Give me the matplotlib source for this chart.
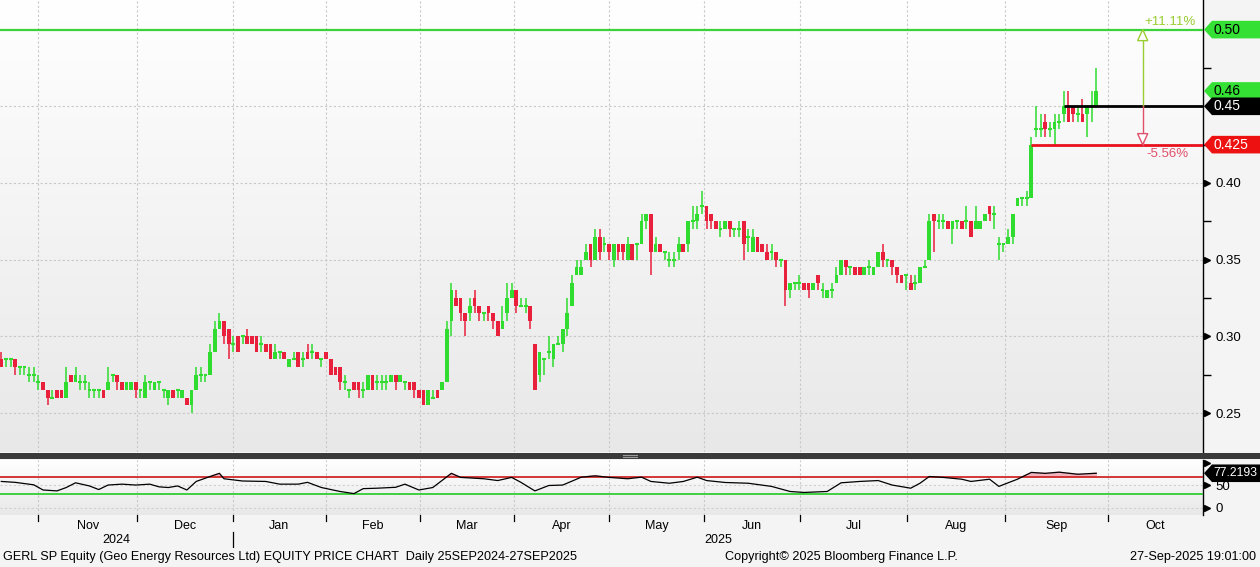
import numpy as np
import matplotlib
matplotlib.use("Agg")
import matplotlib.pyplot as plt
from matplotlib.patches import Polygon, Rectangle
from matplotlib.lines import Line2D
from matplotlib.colors import LinearSegmentedColormap

# ---------------- data ----------------
opens = [.285,.285,.285,.285,.28,.28,.275,.275,.27,.27,.265,.26,.265,.265,.26,.275,.27,.27,.27,.265,
         .265,.265,.265,.265,.275,.275,.27,.265,.265,.27,.265,.26,.27,.265,.27,.265,.26,.265,.265,.26,
         .26,.255,.265,.275,.275,.275,.29,.305,.31,.305,.295,.30,.30,.30,.30,.30,.295,.295,.295,.285,
         .29,.29,.28,.285,.29,.285,.29,.29,.29,.285,.29,.285,.28,.28,.27,.265,.27,.27,.265,.265,
         .275,.27,.27,.27,.27,.275,.27,.27,.27,.27,.265,.265,.255,.26,.265,.265,.27,.31,.325,.325,
         .315,.315,.325,.32,.315,.32,.315,.31,.305,.315,.325,.33,.32,.32,.32,.295,.275,.285,.29,.285,
         .295,.295,.305,.32,.34,.34,.35,.36,.35,.365,.36,.36,.35,.36,.36,.35,.36,.36,.36,.375,
         .38,.355,.36,.355,.35,.35,.355,.36,.36,.375,.375,.385,.385,.38,.375,.37,.37,.375,.37,.37,
         .375,.365,.355,.365,.36,.355,.355,.355,.35,.35,.33,.335,.335,.335,.335,.33,.34,.33,.325,.33,
         .335,.34,.35,.345,.345,.345,.34,.345,.34,.345,.355,.35,.35,.345,.34,.34,.335,.335,.335,.345,
         .35,.38,.375,.375,.375,.37,.375,.375,.375,.375,.37,.37,.375,.385,.38,.36,.36,.36,.365,.385,
         .39,.39,.39,.435,.435,.44,.435,.435,.44,.445,.45,.45,.445,.445,.445,.45,.45]
highs = [.29,.285,.285,.285,.28,.28,.28,.28,.275,.27,.265,.265,.265,.265,.28,.275,.28,.275,.275,.27,
         .265,.265,.265,.28,.275,.275,.27,.27,.27,.27,.265,.275,.27,.27,.27,.265,.265,.265,.265,.265,
         .26,.265,.28,.28,.275,.295,.31,.315,.31,.305,.30,.30,.30,.305,.30,.30,.30,.295,.295,.295,
         .29,.29,.285,.29,.29,.29,.295,.295,.29,.285,.29,.285,.28,.28,.275,.265,.27,.27,.27,.275,
         .275,.275,.275,.275,.275,.275,.275,.27,.27,.27,.265,.265,.265,.265,.265,.27,.31,.335,.33,.325,
         .315,.325,.33,.32,.315,.32,.315,.31,.32,.335,.335,.33,.325,.325,.32,.295,.29,.285,.30,.295,
         .30,.305,.325,.34,.35,.35,.36,.36,.37,.37,.365,.36,.36,.36,.36,.365,.36,.36,.38,.38,
         .38,.365,.36,.355,.355,.355,.365,.36,.375,.385,.385,.395,.385,.38,.375,.375,.375,.375,.37,.375,
         .375,.37,.37,.365,.36,.36,.36,.355,.35,.35,.335,.335,.34,.335,.335,.335,.34,.335,.33,.335,
         .345,.35,.35,.345,.345,.345,.345,.35,.345,.355,.36,.35,.35,.345,.34,.34,.34,.34,.345,.35,
         .38,.38,.38,.38,.375,.375,.375,.375,.385,.375,.385,.375,.38,.385,.385,.365,.36,.37,.38,.39,
         .39,.395,.43,.45,.445,.445,.44,.445,.445,.46,.46,.45,.45,.455,.45,.46,.475]
lows  = [.28,.28,.28,.275,.275,.275,.27,.27,.265,.265,.255,.26,.26,.26,.26,.27,.27,.265,.265,.26,
         .26,.26,.26,.265,.27,.265,.265,.265,.265,.26,.26,.26,.265,.265,.265,.26,.255,.26,.26,.26,
         .255,.25,.265,.27,.27,.275,.29,.305,.295,.285,.29,.29,.295,.295,.295,.29,.29,.29,.285,.285,
         .285,.285,.28,.285,.28,.28,.285,.285,.285,.28,.285,.275,.275,.265,.265,.26,.265,.26,.26,.265,
         .265,.265,.265,.265,.27,.265,.27,.265,.265,.26,.26,.255,.255,.26,.26,.265,.27,.30,.32,.31,
         .30,.31,.315,.31,.31,.31,.305,.30,.305,.31,.325,.315,.32,.315,.305,.265,.27,.275,.285,.28,
         .295,.29,.30,.32,.34,.34,.35,.345,.35,.35,.355,.35,.345,.35,.35,.35,.35,.35,.36,.37,
         .34,.355,.355,.35,.345,.345,.35,.355,.355,.37,.37,.38,.37,.37,.37,.365,.37,.365,.365,.365,
         .35,.355,.355,.355,.355,.35,.35,.345,.345,.32,.325,.33,.33,.33,.325,.33,.33,.325,.325,.325,
         .335,.34,.34,.34,.34,.34,.34,.34,.34,.345,.345,.345,.34,.335,.335,.33,.33,.33,.335,.345,
         .35,.355,.37,.37,.37,.36,.37,.37,.37,.365,.37,.37,.375,.375,.37,.35,.355,.36,.36,.385,
         .385,.385,.39,.43,.43,.43,.43,.425,.435,.44,.44,.44,.44,.44,.43,.44,.45]
closes = [.28,.285,.285,.28,.28,.28,.275,.275,.27,.265,.26,.26,.26,.26,.27,.27,.275,.27,.27,.265,
          .265,.265,.26,.27,.275,.27,.265,.27,.27,.265,.265,.27,.27,.27,.27,.265,.265,.26,.265,.265,
          .255,.265,.275,.275,.275,.29,.305,.31,.30,.295,.295,.29,.30,.295,.295,.29,.295,.29,.285,.29,
          .29,.285,.285,.285,.28,.285,.285,.29,.285,.285,.285,.275,.275,.27,.27,.265,.265,.265,.265,.275,
          .265,.27,.27,.27,.275,.27,.275,.27,.265,.265,.26,.255,.265,.26,.26,.27,.305,.33,.32,.315,
          .31,.32,.32,.315,.315,.315,.31,.30,.31,.325,.33,.32,.32,.32,.31,.265,.29,.285,.29,.295,
          .295,.305,.315,.335,.345,.345,.355,.35,.365,.355,.36,.355,.36,.355,.355,.36,.35,.36,.375,.38,
          .355,.36,.355,.355,.35,.35,.36,.355,.375,.375,.38,.385,.375,.375,.37,.37,.375,.37,.37,.37,
          .36,.365,.365,.355,.355,.35,.355,.35,.35,.33,.335,.335,.335,.33,.33,.335,.335,.33,.33,.33,
          .34,.35,.345,.345,.34,.34,.345,.345,.345,.355,.35,.35,.345,.34,.335,.34,.33,.335,.345,.345,
          .375,.375,.375,.375,.37,.375,.375,.37,.375,.365,.375,.375,.38,.38,.38,.36,.36,.365,.38,.39,
          .39,.39,.425,.435,.435,.435,.435,.44,.44,.45,.44,.445,.445,.44,.45,.45,.46]

# RSI(14): candle index and value
rsi_idx = [0,3,7,9,12,14,16,19,21,23,26,29,32,34,36,38,40,42,45,47,48,52,57,60,64,66,69,73,76,78,
           81,85,87,90,93,97,99,104,107,110,112,115,118,121,125,128,131,135,138,140,144,147,150,152,156,
           161,166,170,173,178,181,185,189,192,196,198,200,203,207,209,213,215,219,222,225,228,232,236]
rsi_val = [59,57,51.5,40,38,45.5,56,49,41,51,53,51,53,47,45.5,49,40,59,70,77,65,60,59,53,53,57,45.5,
           36.7,32,43,44,46,53,40,45.5,77,68,65,61,68,57,38,50,51,68.5,71.5,68,65,68.5,59,55,59,68.5,61,
           56.7,55,48,36.7,34.5,36.7,56,59,61,51,44,55,70,68,64,59,64,48,64,79,77,79.6,75,77.2193]

month_names = ["Nov", "Dec", "Jan", "Feb", "Mar", "Apr", "May", "Jun", "Jul", "Aug", "Sep", "Oct"]
month_bounds = [8.0, 29.2, 49.9, 69.9, 90.2, 110.6, 131.0, 151.4, 172.1, 195.2, 216.3, 238.5, 259.0]
year_labels = ["2024", "2025"]

price_ticks = [0.25, 0.30, 0.35, 0.40]
price_minor = [0.275, 0.325, 0.375, 0.425, 0.475]
last_price = 0.46
ref_high = 0.50
ref_mid = 0.45
ref_low = 0.425
pct_up = "+11.11%"
pct_down = "-5.56%"
rsi_last = 77.2193
rsi_ticks = [0, 50, 100]

# ---------------- styling ----------------
GREEN = "#2fdc2f"
RED = "#e8203c"
W, H = 1260, 567
plt.rcParams["font.family"] = ["Liberation Sans", "DejaVu Sans"]
SANS = ["Liberation Sans", "DejaVu Sans"]

fig = plt.figure(figsize=(W / 100, H / 100), dpi=100)
fig.patch.set_facecolor("#f4f4f4")


def fy(y):
    return 1 - y / H


px = 1 / 1203.0
ax = fig.add_axes([0, fy(452), 1203 / W, 452 / H])
ax2 = fig.add_axes([0, fy(515), 1203 / W, 55 / H])

cmap = LinearSegmentedColormap.from_list("bg", ["#e8e8e8", "#ffffff"])
grad = np.linspace(0, 1, 256).reshape(-1, 1)
for a in (ax, ax2):
    a.imshow(grad, extent=[0, 1, 0, 1], transform=a.transAxes, cmap=cmap,
             aspect="auto", origin="lower", zorder=0)

XL = (-0.28, month_bounds[-1])
ax.set_xlim(*XL)
ax.set_ylim(0.40 - (452 - 183) / 1534, 0.40 + 183 / 1534)
ax2.set_xlim(*XL)
ax2.set_ylim(-15.6, 106.7)

# gridlines
for a in (ax, ax2):
    for b in month_bounds[:-1]:
        a.axvline(b, color="#c8c8c8", lw=0.8, ls=(0, (2, 2)), zorder=1)
for p in price_ticks + [ref_mid]:
    ax.axhline(p, color="#c8c8c8", lw=0.8, ls=(0, (2, 2)), zorder=1)
for r in [0, 50]:
    ax2.axhline(r, color="#d0d0d0", lw=0.8, ls=(0, (2, 2)), zorder=1)

# candles
o = np.array(opens); h = np.array(highs); l = np.array(lows); c = np.array(closes)
idx = np.arange(len(c))
flat = np.isclose(o, c)
down = (c < o) & ~flat
cols = np.where(down, RED, GREEN)
ax.vlines(idx, l, h, colors=cols, lw=1.1, zorder=3)
nf = ~flat
ax.bar(idx[nf], np.abs(c - o)[nf], bottom=np.minimum(o, c)[nf], width=0.8,
       color=cols[nf], linewidth=0, zorder=4)
ax.hlines(o[flat], idx[flat] - 0.42, idx[flat] + 0.42, colors=GREEN, lw=1.5, zorder=4)

# reference lines
ax.axhline(ref_high, color="#3cd23c", lw=1.6, zorder=5)
start_mid = int(np.argmax(c >= ref_mid))
start_low = int(np.argmax(c >= ref_low))
ax.hlines(ref_mid, start_mid, XL[1], color="black", lw=2, zorder=5)
ax.hlines(ref_low, start_low, XL[1], color="#e8101c", lw=2, zorder=5)

# percent arrows
xa = 246
ax.plot([xa, xa], [ref_mid, ref_high], color="#9acd32", lw=1, zorder=5)
ax.plot([xa, xa], [ref_mid, ref_low], color="#e0506a", lw=1, zorder=5)
tw = 1.1
ax.add_patch(Polygon([[xa, ref_high], [xa - tw, ref_high - 0.0072], [xa + tw, ref_high - 0.0072]],
                     closed=True, fill=True, facecolor="white", edgecolor="#9acd32", lw=1, zorder=6))
ax.add_patch(Polygon([[xa, ref_low], [xa - tw, ref_low + 0.0072], [xa + tw, ref_low + 0.0072]],
                     closed=True, fill=True, facecolor="white", edgecolor="#e0506a", lw=1, zorder=6))
ax.text(xa + 0.4, ref_high + 0.0012, pct_up, color="#9acd32", fontsize=9.5, ha="left", va="bottom",
        family=SANS, zorder=6)
ax.text(xa + 0.8, ref_low - 0.0025, pct_down, color="#e0506a", fontsize=9.5, ha="left", va="top",
        family=SANS, zorder=6)

# right axis
for a in (ax, ax2):
    for s in ("top", "left", "bottom"):
        a.spines[s].set_visible(False)
    a.spines["right"].set_color("black")
    a.spines["right"].set_linewidth(1.0)
    a.yaxis.tick_right()
    a.tick_params(axis="y", which="major", length=0, pad=9, labelsize=9.5)
    a.tick_params(axis="y", which="minor", length=6, width=1, direction="out", color="black")
    a.set_xticks([])

ax.set_yticks(price_ticks)
ax.set_yticklabels([f"{p:.2f}" for p in price_ticks])
ax.set_yticks(price_minor, minor=True)
ytr = ax.get_yaxis_transform()
ax.plot([1 + 4 * px] * len(price_ticks), price_ticks, ls="none", marker=">", ms=5, color="black",
        transform=ytr, clip_on=False)


def tag(a, y, text, face, tcolor, hh, fs=10):
    tr = a.get_yaxis_transform()
    pts = [[1 + 1 * px, y], [1 + 9 * px, y + hh], [1 + 60 * px, y + hh],
           [1 + 60 * px, y - hh], [1 + 9 * px, y - hh]]
    a.add_patch(Polygon(pts, closed=True, facecolor=face, edgecolor="none",
                        transform=tr, clip_on=False, zorder=10))
    a.text(1 + 10 * px, y, text, transform=tr, color=tcolor, fontsize=fs, ha="left",
           va="center", clip_on=False, zorder=11)


hp = 8.8 / 1534
tag(ax, ref_high, f"{ref_high:.2f}", "#33e033", "black", hp)
tag(ax, last_price, f"{last_price:.2f}", "#33e033", "black", hp)
tag(ax, ref_mid, f"{ref_mid:.2f}", "black", "white", hp)
tag(ax, ref_low, f"{ref_low:.3f}", "#ee1111", "white", hp)

# RSI panel
ax2.axhline(70, color="#d02828", lw=1.3, zorder=3)
ax2.axhline(30, color="#33cc33", lw=1.3, zorder=3)
ri = np.array(rsi_idx, dtype=float); rv = np.array(rsi_val)
ax2.plot(ri, rv, color="black", lw=0.9, zorder=4)
ax2.fill_between(ri, 70, rv, where=rv > 70, interpolate=True, color="#f2b4bf", zorder=2)
ax2.set_yticks(rsi_ticks)
ax2.set_yticklabels(["" if t == 100 else str(t) for t in rsi_ticks])
ytr2 = ax2.get_yaxis_transform()
ax2.plot([1 + 4 * px] * len(rsi_ticks), rsi_ticks, ls="none", marker=">", ms=5, color="black",
         transform=ytr2, clip_on=False)
tag(ax2, rsi_last, f"{rsi_last:.4f}", "black", "white", 8.8 / 0.45, fs=8.8)

# separator bar
fig.add_artist(Rectangle((0, fy(459)), 1, 6 / H, transform=fig.transFigure,
                         facecolor="#3a3a3a", edgecolor="none"))
for yy in (455, 457):
    fig.add_artist(Line2D([623 / W, 637 / W], [fy(yy), fy(yy)], color="#9a9a9a", lw=0.8))

# month axis
axm = fig.add_axes([0, fy(548), 1203 / W, 33 / H])
axm.set_xlim(*XL)
axm.set_ylim(0, 1)
axm.axis("off")
for b in month_bounds[:-1]:
    axm.plot([b, b], [1, 0.82], color="black", lw=0.9)
centers = [(month_bounds[k] + month_bounds[k + 1]) / 2 for k in range(len(month_names))]
for name, cx in zip(month_names, centers):
    axm.text(cx, 0.66, name, ha="center", va="center", fontsize=9, family=SANS)
axm.plot([month_bounds[2], month_bounds[2]], [0.5, 0.0], color="black", lw=0.9)
axm.text((XL[0] + month_bounds[2]) / 2, 0.25, year_labels[0], ha="center",
         va="center", fontsize=9, family=SANS)
axm.text((month_bounds[2] + XL[1]) / 2, 0.25, year_labels[1], ha="center",
         va="center", fontsize=9, family=SANS)

# footer
fig.text(3 / W, fy(557), "GERL SP Equity (Geo Energy Resources Ltd) EQUITY PRICE CHART  Daily 25SEP2024-27SEP2025",
         ha="left", va="center", fontsize=9.1, family=SANS)
fig.text(725 / W, fy(557), "Copyright\u00a9 2025 Bloomberg Finance L.P.", ha="left", va="center",
         fontsize=9.1, family=SANS)
fig.text(1256 / W, fy(557), "27-Sep-2025 19:01:00", ha="right", va="center", fontsize=9.1,
         family=SANS)

fig.savefig("out.png", dpi=100, facecolor=fig.get_facecolor())
